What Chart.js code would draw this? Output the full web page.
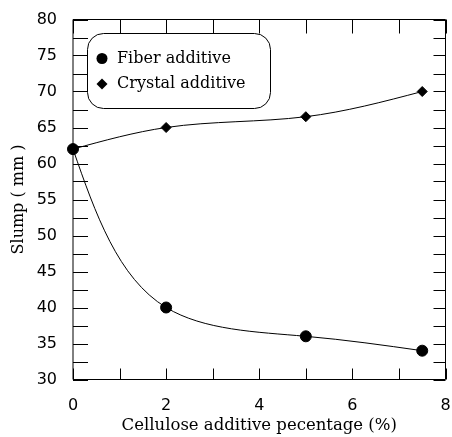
<!DOCTYPE html>
<html>
<head>
<meta charset="utf-8">
<script src="https://cdn.jsdelivr.net/npm/chart.js@4/dist/chart.umd.min.js"></script>
<style>
  html, body { margin: 0; padding: 0; background: #fff; }
  #wrap { width: 452px; height: 437px; position: relative; }
</style>
</head>
<body>
<div id="wrap"><canvas id="c" width="452" height="437"></canvas></div>
<script>
// ---- data ----
const seriesNames = ['Fiber additive', 'Crystal additive'];
const xFiber = [0, 2, 5, 7.5];
const yFiber = [62, 40, 36, 34];
const xCrystal = [0, 2, 5, 7.5];
const yCrystal = [62, 65, 66.5, 70];
const xTickLabels = [0, 2, 4, 6, 8];
const yTickLabels = [30, 35, 40, 45, 50, 55, 60, 65, 70, 75, 80];
const xAxisTitle = 'Cellulose additive pecentage (%)';
const yAxisTitle = 'Slump ( mm )';

const SANS = '"DejaVu Sans", sans-serif';
const SERIF = '"DejaVu Serif", serif';

function toPoints(xs, ys) { return xs.map((x, i) => ({ x: x, y: ys[i] })); }

// natural cubic spline derivatives for values v over parameter t
function splineDerivs(t, v) {
  const n = v.length - 1;
  const h = [];
  for (let i = 0; i < n; i++) h.push(t[i + 1] - t[i]);
  const M = new Array(n + 1).fill(0);
  if (n >= 2) {
    const a = [], b = [], c = [], d = [];
    for (let i = 1; i < n; i++) {
      a.push(h[i - 1]); b.push(2 * (h[i - 1] + h[i])); c.push(h[i]);
      d.push(6 * ((v[i + 1] - v[i]) / h[i] - (v[i] - v[i - 1]) / h[i - 1]));
    }
    const m = b.length;
    for (let i = 1; i < m; i++) {
      const w = a[i] / b[i - 1];
      b[i] -= w * c[i - 1]; d[i] -= w * d[i - 1];
    }
    const sol = new Array(m);
    sol[m - 1] = d[m - 1] / b[m - 1];
    for (let i = m - 2; i >= 0; i--) sol[i] = (d[i] - c[i] * sol[i + 1]) / b[i];
    for (let i = 1; i < n; i++) M[i] = sol[i - 1];
  }
  const D = [];
  for (let i = 0; i < n; i++) D.push((v[i + 1] - v[i]) / h[i] - h[i] * (2 * M[i] + M[i + 1]) / 6);
  D.push((v[n] - v[n - 1]) / h[n - 1] + h[n - 1] * (M[n - 1] + 2 * M[n]) / 6);
  return { D, h };
}

// smooth curve through the plotted points (parametric natural spline, chord-length)
const smoothCurve = {
  id: 'smoothCurve',
  beforeDatasetDraw(chart, args) {
    const pts = args.meta.data;
    if (!pts || pts.length < 3) return;
    const t = [0];
    for (let i = 1; i < pts.length; i++) {
      t.push(t[i - 1] + Math.hypot(pts[i].x - pts[i - 1].x, pts[i].y - pts[i - 1].y));
    }
    const sx = splineDerivs(t, pts.map(p => p.x));
    const sy = splineDerivs(t, pts.map(p => p.y));
    const n = pts.length - 1;
    for (let i = 0; i <= n; i++) {
      const p = pts[i];
      if (i < n) {
        const hh = sx.h[i] / 3;
        p.cp2x = p.x + sx.D[i] * hh; p.cp2y = p.y + sy.D[i] * hh;
      } else { p.cp2x = p.x; p.cp2y = p.y; }
      if (i > 0) {
        const hh = sx.h[i - 1] / 3;
        p.cp1x = p.x - sx.D[i] * hh; p.cp1y = p.y - sy.D[i] * hh;
      } else { p.cp1x = p.x; p.cp1y = p.y; }
    }
    args.meta.dataset._pointsUpdated = true;
    args.meta.dataset._path = undefined;
  }
};

const frameTicks = {
  id: 'frameTicks',
  afterDraw(chart) {
    const { ctx, chartArea: a, scales } = chart;
    const xs = scales.x, ys = scales.y;
    ctx.save();
    ctx.strokeStyle = '#000';
    ctx.lineWidth = 1;
    ctx.beginPath();
    ctx.rect(a.left, a.top, a.right - a.left, a.bottom - a.top);
    ctx.stroke();
    ctx.beginPath();
    xs.ticks.forEach(tk => {
      const px = Math.round(xs.getPixelForValue(tk.value)) + 0.5;
      ctx.moveTo(px, a.bottom); ctx.lineTo(px, a.bottom - 11);
      ctx.moveTo(px, a.top); ctx.lineTo(px, a.top + 14);
    });
    ys.ticks.forEach(tk => {
      const py = Math.round(ys.getPixelForValue(tk.value)) + 0.5;
      ctx.moveTo(a.left, py); ctx.lineTo(a.left + 15, py);
      ctx.moveTo(a.right, py); ctx.lineTo(a.right - 12, py);
    });
    ctx.stroke();
    ctx.restore();
  }
};

const boxLegend = {
  id: 'boxLegend',
  afterDraw(chart) {
    const ctx = chart.ctx;
    const x = 87.5, y = 33.5, w = 183, h = 75, r = 16;
    ctx.save();
    ctx.fillStyle = '#fff';
    ctx.strokeStyle = '#000';
    ctx.lineWidth = 1;
    ctx.beginPath();
    ctx.moveTo(x + r, y);
    ctx.lineTo(x + w - r, y);
    ctx.arcTo(x + w, y, x + w, y + r, r);
    ctx.lineTo(x + w, y + h - r);
    ctx.arcTo(x + w, y + h, x + w - r, y + h, r);
    ctx.lineTo(x + r, y + h);
    ctx.arcTo(x, y + h, x, y + h - r, r);
    ctx.lineTo(x, y + r);
    ctx.arcTo(x, y, x + r, y, r);
    ctx.closePath();
    ctx.fill();
    ctx.stroke();
    ctx.fillStyle = '#000';
    ctx.beginPath();
    ctx.arc(102, 58.5, 5.5, 0, Math.PI * 2);
    ctx.fill();
    ctx.beginPath();
    ctx.moveTo(102 - 5.5, 84); ctx.lineTo(102, 84 - 5.5);
    ctx.lineTo(102 + 5.5, 84); ctx.lineTo(102, 84 + 5.5);
    ctx.closePath();
    ctx.fill();
    ctx.font = '16px ' + SERIF;
    ctx.textBaseline = 'middle';
    ctx.textAlign = 'left';
    ctx.fillText(chart.data.datasets[0].label, 117, 58.5);
    ctx.fillText(chart.data.datasets[1].label, 117, 83.5);
    ctx.restore();
  }
};

new Chart(document.getElementById('c'), {
  type: 'scatter',
  data: {
    datasets: [
      {
        label: seriesNames[0],
        data: toPoints(xFiber, yFiber),
        showLine: true,
        borderColor: '#000',
        backgroundColor: '#000',
        borderWidth: 1,
        tension: 0.4,
        pointStyle: 'circle',
        pointRadius: 5.5,
        pointBorderWidth: 1,
        clip: false
      },
      {
        label: seriesNames[1],
        data: toPoints(xCrystal, yCrystal),
        showLine: true,
        borderColor: '#000',
        backgroundColor: '#000',
        borderWidth: 1,
        tension: 0.4,
        pointStyle: 'rectRot',
        pointRadius: 5,
        pointBorderWidth: 1,
        clip: false
      }
    ]
  },
  options: {
    responsive: false,
    animation: false,
    events: [],
    layout: { padding: { top: 19.5, right: 5, left: 0, bottom: 0 } },
    plugins: { legend: { display: false }, tooltip: { enabled: false } },
    scales: {
      x: {
        type: 'linear',
        min: 0, max: 8,
        afterFit(s) { s.height = 57.5; s.paddingLeft = 0; s.paddingRight = 0; },
        grid: { display: false, drawTicks: false },
        border: { display: false },
        ticks: {
          stepSize: 1,
          padding: 17,
          color: '#000',
          font: { family: SANS, size: 16 },
          maxRotation: 0,
          autoSkip: false,
          callback: v => xTickLabels.includes(v) ? String(v) : ''
        },
        title: {
          display: true,
          text: xAxisTitle,
          color: '#000',
          font: { family: SERIF, size: 16.5 },
          padding: { top: 0, bottom: 1 }
        }
      },
      y: {
        type: 'linear',
        min: 30, max: 80,
        afterFit(s) { s.width = 73; s.paddingTop = 0; s.paddingBottom = 0; },
        grid: { display: false, drawTicks: false },
        border: { display: false },
        ticks: {
          stepSize: 2.5,
          padding: 16,
          color: '#000',
          font: { family: SANS, size: 16 },
          autoSkip: false,
          callback: v => yTickLabels.includes(v) ? String(v) : ''
        },
        title: {
          display: true,
          text: yAxisTitle,
          color: '#000',
          font: { family: SERIF, size: 16 },
          padding: { top: 9, bottom: 0 }
        }
      }
    }
  },
  plugins: [smoothCurve, frameTicks, boxLegend]
});
</script>
</body>
</html>
